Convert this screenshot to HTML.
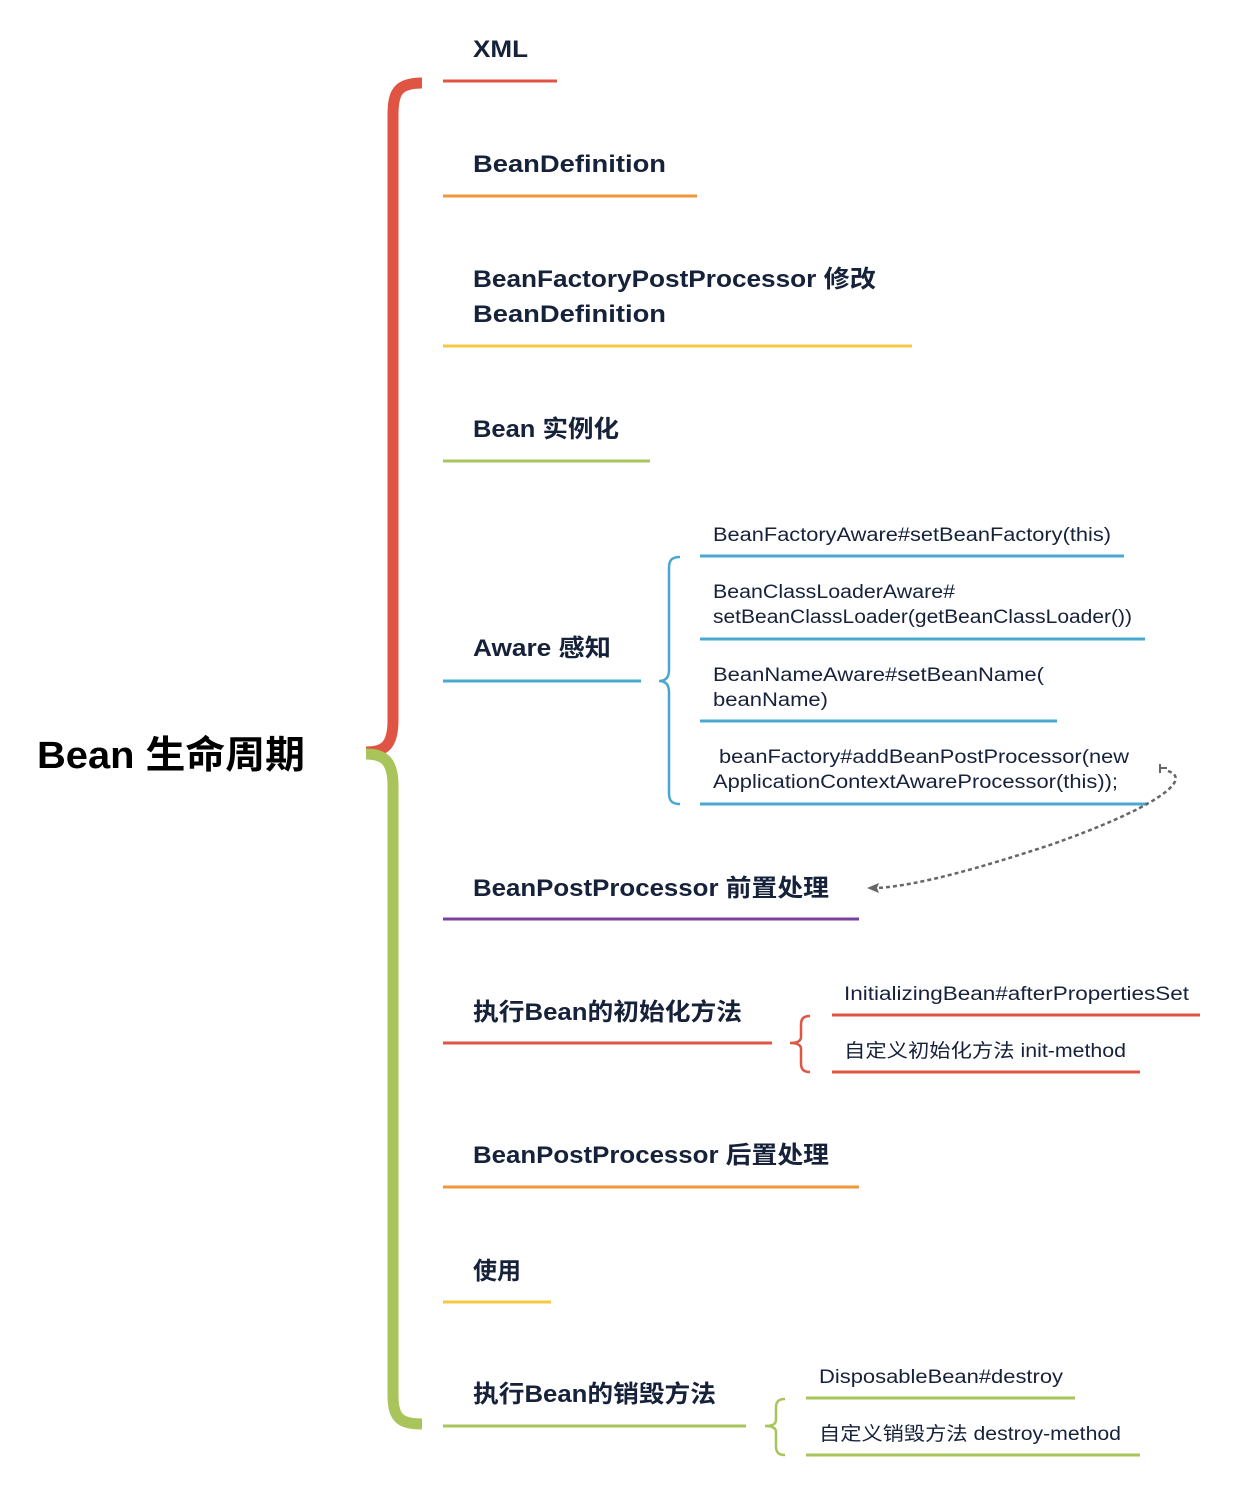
<!DOCTYPE html>
<html><head><meta charset="utf-8"><style>
html,body{margin:0;padding:0;background:#fff;}
svg{display:block;}
.h{font-family:"Liberation Sans","Noto Sans CJK SC",sans-serif;font-weight:bold;font-size:24px;fill:#16213a;}
.s{font-family:"Liberation Sans","Noto Sans CJK SC",sans-serif;font-size:19px;fill:#16213a;}
</style></head><body>
<svg width="1238" height="1498" viewBox="0 0 1238 1498" xmlns="http://www.w3.org/2000/svg">
<text x="37" y="768" font-family="Liberation Sans, Noto Sans CJK SC, sans-serif" font-weight="bold" font-size="38" fill="#000" textLength="268" lengthAdjust="spacingAndGlyphs">Bean 生命周期</text>
<!-- main brace -->
<path d="M422,83 C398,83 393,92 393,115 L393,720 C393,745 385,752 366,752" fill="none" stroke="#e05444" stroke-width="11"/>
<path d="M366,754 C385,754 393,762 393,786 L393,1395 C393,1418 400,1424 422,1424" fill="none" stroke="#a8c45a" stroke-width="11"/>
<!-- main items -->
<text class="h" x="473" y="57" textLength="55" lengthAdjust="spacingAndGlyphs">XML</text>
<line x1="443" y1="81" x2="557" y2="81" stroke="#e05444" stroke-width="3"/>
<text class="h" x="473" y="172" textLength="193" lengthAdjust="spacingAndGlyphs">BeanDefinition</text>
<line x1="443" y1="196" x2="697" y2="196" stroke="#f0963c" stroke-width="3"/>
<text class="h" x="473" y="287" textLength="403" lengthAdjust="spacingAndGlyphs">BeanFactoryPostProcessor 修改</text>
<text class="h" x="473" y="322" textLength="193" lengthAdjust="spacingAndGlyphs">BeanDefinition</text>
<line x1="443" y1="346" x2="912" y2="346" stroke="#f5c842" stroke-width="3"/>
<text class="h" x="473" y="437" textLength="146" lengthAdjust="spacingAndGlyphs">Bean 实例化</text>
<line x1="443" y1="461" x2="650" y2="461" stroke="#a8c45a" stroke-width="3"/>
<text class="h" x="473" y="656" textLength="138" lengthAdjust="spacingAndGlyphs">Aware 感知</text>
<line x1="443" y1="681" x2="641" y2="681" stroke="#4aa8d0" stroke-width="3"/>
<text class="h" x="473" y="896" textLength="356" lengthAdjust="spacingAndGlyphs">BeanPostProcessor 前置处理</text>
<line x1="443" y1="919" x2="859" y2="919" stroke="#7b3fa0" stroke-width="3"/>
<text class="h" x="473" y="1020" textLength="269" lengthAdjust="spacingAndGlyphs">执行Bean的初始化方法</text>
<line x1="443" y1="1043" x2="772" y2="1043" stroke="#e05444" stroke-width="3"/>
<text class="h" x="473" y="1163" textLength="356" lengthAdjust="spacingAndGlyphs">BeanPostProcessor 后置处理</text>
<line x1="443" y1="1187" x2="859" y2="1187" stroke="#f0963c" stroke-width="3"/>
<text class="h" x="473" y="1279" textLength="48" lengthAdjust="spacingAndGlyphs">使用</text>
<line x1="443" y1="1302" x2="551" y2="1302" stroke="#f5c842" stroke-width="3"/>
<text class="h" x="473" y="1402" textLength="243" lengthAdjust="spacingAndGlyphs">执行Bean的销毁方法</text>
<line x1="443" y1="1426" x2="746" y2="1426" stroke="#a8c45a" stroke-width="3"/>
<!-- aware brace -->
<path d="M680,557 C672,557 669,560 669,568 L669,670 C669,678 665,681 659,681 C665,681 669,684 669,692 L669,793 C669,801 672,804 680,804" fill="none" stroke="#4aa8d0" stroke-width="2.5"/>
<text class="s" x="713" y="541" textLength="398" lengthAdjust="spacingAndGlyphs">BeanFactoryAware#setBeanFactory(this)</text>
<line x1="700" y1="556" x2="1124" y2="556" stroke="#4aa8d0" stroke-width="3"/>
<text class="s" x="713" y="598" textLength="242" lengthAdjust="spacingAndGlyphs">BeanClassLoaderAware#</text>
<text class="s" x="713" y="623" textLength="419" lengthAdjust="spacingAndGlyphs">setBeanClassLoader(getBeanClassLoader())</text>
<line x1="700" y1="639" x2="1145" y2="639" stroke="#4aa8d0" stroke-width="3"/>
<text class="s" x="713" y="681" textLength="331" lengthAdjust="spacingAndGlyphs">BeanNameAware#setBeanName(</text>
<text class="s" x="713" y="706" textLength="115" lengthAdjust="spacingAndGlyphs">beanName)</text>
<line x1="700" y1="721" x2="1057" y2="721" stroke="#4aa8d0" stroke-width="3"/>
<text class="s" x="719" y="763" textLength="410" lengthAdjust="spacingAndGlyphs">beanFactory#addBeanPostProcessor(new</text>
<text class="s" x="713" y="788" textLength="405" lengthAdjust="spacingAndGlyphs">ApplicationContextAwareProcessor(this));</text>
<line x1="700" y1="804" x2="1147" y2="804" stroke="#4aa8d0" stroke-width="3"/>
<!-- dashed arrow -->
<path d="M1160,768 L1167,768 M1160,764 L1160,773" stroke="#666" stroke-width="2" fill="none"/>
<path d="M1168,771 C1195,780 1150,810 1050,845 C980,868 920,885 878,888" fill="none" stroke="#666" stroke-width="2.5" stroke-dasharray="4,3"/>
<path d="M867,888 L879,883 L877,888 L879,893 Z" fill="#666"/>
<!-- init brace -->
<path d="M810,1016 C803,1016 801,1019 801,1025 L801,1037 C801,1041 797,1043 790,1043 C797,1043 801,1045 801,1049 L801,1063 C801,1069 803,1072 810,1072" fill="none" stroke="#e05444" stroke-width="2.5"/>
<text class="s" x="844" y="1000" textLength="345" lengthAdjust="spacingAndGlyphs">InitializingBean#afterPropertiesSet</text>
<line x1="832" y1="1015" x2="1200" y2="1015" stroke="#e05444" stroke-width="3"/>
<text class="s" x="844" y="1057" textLength="282" lengthAdjust="spacingAndGlyphs">自定义初始化方法 init-method</text>
<line x1="832" y1="1072" x2="1140" y2="1072" stroke="#e05444" stroke-width="3"/>
<!-- destroy brace -->
<path d="M785,1399 C778,1399 776,1402 776,1408 L776,1420 C776,1424 772,1426 765,1426 C772,1426 776,1428 776,1432 L776,1446 C776,1452 778,1455 785,1455" fill="none" stroke="#a8c45a" stroke-width="2.5"/>
<text class="s" x="819" y="1383" textLength="244" lengthAdjust="spacingAndGlyphs">DisposableBean#destroy</text>
<line x1="806" y1="1398" x2="1075" y2="1398" stroke="#a8c45a" stroke-width="3"/>
<text class="s" x="819" y="1440" textLength="302" lengthAdjust="spacingAndGlyphs">自定义销毁方法 destroy-method</text>
<line x1="806" y1="1455" x2="1140" y2="1455" stroke="#a8c45a" stroke-width="3"/>
</svg>
</body></html>
